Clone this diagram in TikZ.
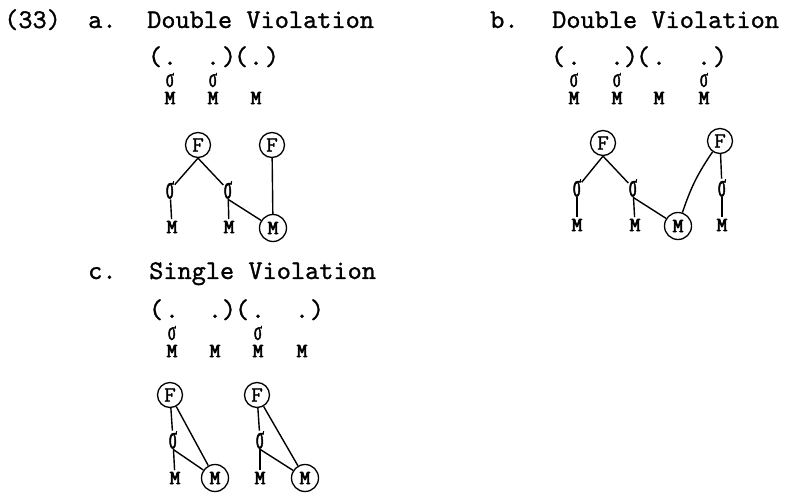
\documentclass[tikz,border=0pt]{standalone}
\usepackage{fontspec}
\newfontfamily\sigf[FakeStretch=0.55,FakeBold=1.5]{Liberation Serif}
\newfontfamily\sigt[FakeStretch=0.45,FakeBold=1.5]{Liberation Serif}
\newfontfamily\twr[FakeBold=1]{lmmono10-regular.otf}
\newfontfamily\twm[FakeBold=3.5]{lmmono10-regular.otf}
\newcommand\symL{(}
\newcommand\symR{)}
\newcommand\symD{.}
\tikzset{
  ttl/.style={font=\twr\fontsize{27}{30}\selectfont, anchor=base west, inner sep=0pt},
  pc/.style={font=\twr\fontsize{27}{30}\selectfont, anchor=base, inner sep=0pt},
  rowM/.style={font=\twm\fontsize{20}{20}\selectfont, inner sep=0pt},
  rowS/.style={font=\sigf\fontsize{27}{27}\selectfont, inner sep=0pt},
  treeS/.style={font=\sigt\fontsize{33}{33}\selectfont, inner sep=0.5pt},
  treeM/.style={font=\twm\fontsize{20}{20}\selectfont, inner sep=1.5pt},
  cM/.style={font=\twm\fontsize{20}{20}\selectfont, circle, draw, line width=1.3pt, minimum size=27pt, inner sep=0pt},
  cF/.style={font=\twr\fontsize{22}{22}\selectfont, circle, draw, line width=1.3pt, minimum size=25pt, inner sep=0pt},
  link/.style={line width=1.4pt}
}
\begin{document}
\begin{tikzpicture}[x=1pt,y=-1pt]
\useasboundingbox (0,0) rectangle (787,494);
% titles
\node[ttl] (n33) at (4,28) {(33)};
\node[ttl] (la) at (88,28) {a.};
\node[ttl] (ta) at (147,28) {Double Violation};
\node[ttl] (lb) at (490,28) {b.};
\node[ttl] (tb) at (552,28) {Double Violation};
\node[ttl] (lc) at (88,279) {c.};
\node[ttl] (tc) at (149,279) {Single Violation};
% bracket rows
\foreach \k/\x [count=\i] in {L/155,D/170,D/213,R/229,L/241,D/256,R/272}
  \node[pc] (pa\i) at (\x,65) {\csname sym\k\endcsname};
\foreach \k/\x [count=\i] in {L/558,D/574,D/617,R/631,L/643,D/659,D/704,R/720}
  \node[pc] (pb\i) at (\x,65) {\csname sym\k\endcsname};
\foreach \k/\x [count=\i] in {L/156,D/172,D/215,R/229,L/242,D/258,D/302,R/317}
  \node[pc] (pc\i) at (\x,318) {\csname sym\k\endcsname};
% a: row symbols
\node[rowS] (as1) at (170,80) {σ};
\node[rowS] (as2) at (213,80) {σ};
\node[rowM] (am1) at (170,98) {M};
\node[rowM] (am2) at (213,98) {M};
\node[rowM] (am3) at (256,98) {M};
% b: row symbols
\node[rowS] (bs1) at (574,80) {σ};
\node[rowS] (bs2) at (617,80) {σ};
\node[rowS] (bs4) at (704,80) {σ};
\node[rowM] (bm1) at (574,98) {M};
\node[rowM] (bm2) at (617,98) {M};
\node[rowM] (bm3) at (659,98) {M};
\node[rowM] (bm4) at (704,98) {M};
% c: row symbols
\node[rowS] (cs1) at (172,333) {σ};
\node[rowS] (cs3) at (258,333) {σ};
\node[rowM] (cm1) at (172,351) {M};
\node[rowM] (cm2) at (215,351) {M};
\node[rowM] (cm3) at (258,351) {M};
\node[rowM] (cm4) at (302,351) {M};
% a: tree
\node[cF] (aF1) at (198,145) {F};
\node[cF] (aF2) at (272,145) {F};
\node[treeS] (aS1) at (170,190) {σ};
\node[treeS] (aS2) at (228,190) {σ};
\node[treeM] (aM1) at (172,227) {M};
\node[treeM] (aM2) at (229,227) {M};
\node[cM] (aMc) at (273,228) {M};
\draw[link] (aF1.south) -- (aS1);
\draw[link] (aF1.south) -- (aS2);
\draw[link] (aS1) -- (aM1);
\draw[link] (aS2) -- (aM2);
\draw[link] (aS2.south) -- (aMc);
\draw[link] (aF2) -- (aMc);
% b: tree
\node[cF] (bF1) at (603,143) {F};
\node[cF] (bF2) at (720,141) {F};
\node[treeS] (bS1) at (577,188) {σ};
\node[treeS] (bS2) at (633,188) {σ};
\node[treeS] (bS4) at (722,188) {σ};
\node[treeM] (bM1) at (577,225) {M};
\node[treeM] (bM2) at (635,225) {M};
\node[cM] (bMc) at (678,226) {M};
\node[treeM] (bM4) at (722,225) {M};
\draw[link] (bF1.south) -- (bS1);
\draw[link] (bF1.south) -- (bS2);
\draw[link] (bS1) -- (bM1);
\draw[link] (bS2) -- (bM2);
\draw[link] (bS2.south) -- (bMc);
\draw[link] (bF2) to[bend right=8] (bMc);
\draw[link] (bF2) -- (bS4);
\draw[link] (bS4) -- (bM4);
% c: trees
\node[cF] (cF1) at (170,395) {F};
\node[treeS] (cS1) at (173,440) {σ};
\node[treeM] (cM1) at (175,478) {M};
\node[cM] (cMc1) at (215,478) {M};
\node[cF] (cF2) at (257,395) {F};
\node[treeS] (cS2) at (260,440) {σ};
\node[treeM] (cM2) at (260,478) {M};
\node[cM] (cMc2) at (305,478) {M};
\draw[link] (cF1) -- (cS1);
\draw[link] (cF1) -- (cMc1);
\draw[link] (cS1) -- (cM1);
\draw[link] (cS1.south) -- (cMc1);
\draw[link] (cF2) -- (cS2);
\draw[link] (cF2) -- (cMc2);
\draw[link] (cS2) -- (cM2);
\draw[link] (cS2.south) -- (cMc2);
\end{tikzpicture}
\end{document}
